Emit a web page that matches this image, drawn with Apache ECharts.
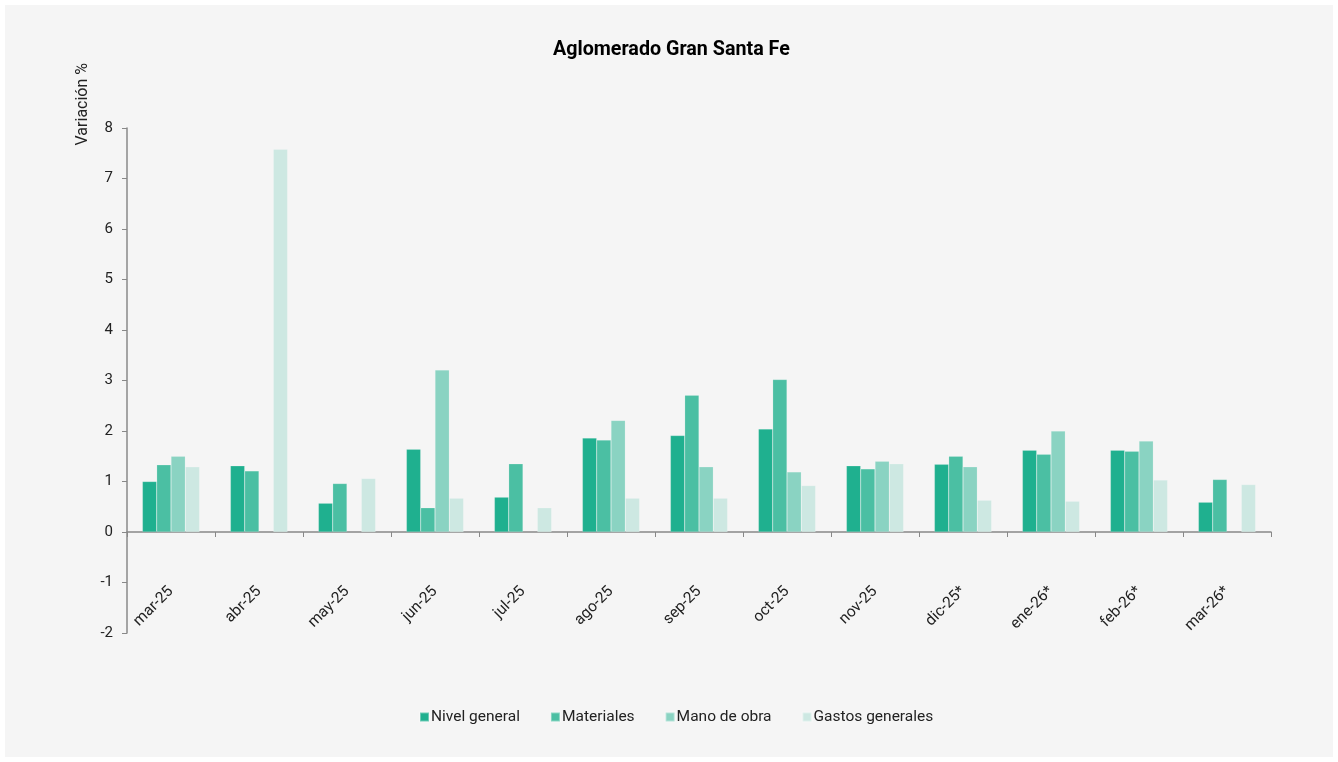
<!DOCTYPE html>
<html>
<head>
<meta charset="utf-8">
<script src="https://cdn.jsdelivr.net/npm/echarts@6/dist/echarts.min.js"></script>
<style>
html,body{margin:0;padding:0;background:#ffffff;}
#chart{position:absolute;left:5px;top:5px;width:1328px;height:752px;}
</style>
</head>
<body>
<div id="chart"></div>
<script>
const categories = ['mar-25','abr-25','may-25','jun-25','jul-25','ago-25','sep-25','oct-25','nov-25','dic-25*','ene-26*','feb-26*','mar-26*'];
const nivelGeneral = [1.00, 1.31, 0.57, 1.64, 0.69, 1.86, 1.91, 2.04, 1.31, 1.34, 1.62, 1.62, 0.59];
const materiales = [1.33, 1.21, 0.96, 0.48, 1.35, 1.82, 2.71, 3.02, 1.25, 1.50, 1.54, 1.60, 1.04];
const manoDeObra = [1.50, null, null, 3.21, null, 2.21, 1.29, 1.19, 1.40, 1.29, 2.00, 1.80, null];
const gastosGenerales = [1.29, 7.58, 1.06, 0.67, 0.48, 0.67, 0.67, 0.92, 1.35, 0.63, 0.61, 1.03, 0.94];
const yTicks = [-2, -1, 0, 1, 2, 3, 4, 5, 6, 7, 8];

const seriesNames = ['Nivel general', 'Materiales', 'Mano de obra', 'Gastos generales'];
const seriesData = [nivelGeneral, materiales, manoDeObra, gastosGenerales];
const colors = ['#1fb08f', '#4bbfa3', '#8ad3c2', '#cde8e2'];

const chart = echarts.init(document.getElementById('chart'));
const font = 'Roboto, "Liberation Sans", sans-serif';
chart.setOption({
  backgroundColor: '#f5f5f5',
  animation: false,
  textStyle: {fontFamily: font},
  title: {
    text: 'Aglomerado Gran Santa Fe',
    left: 543,
    top: 30,
    textStyle: {fontFamily: font, fontSize: 19.7, fontWeight: 'bold', color: '#000'}
  },
  legend: {
    data: seriesNames,
    bottom: 27,
    left: 409,
    itemWidth: 9,
    itemHeight: 9,
    itemGap: 30,
    icon: 'rect',
    textStyle: {fontFamily: font, fontSize: 15.5, color: '#222', padding: [0, 0, 0, -3]}
  },
  graphic: [{
    type: 'text',
    left: 70,
    top: 58,
    rotation: Math.PI / 2,
    style: {text: 'Variación %', font: '16px ' + font, fill: '#222'}
  }],
  grid: {left: 122, right: 62, top: 123, bottom: 124},
  xAxis: {
    type: 'category',
    data: categories,
    axisLine: {onZero: true, lineStyle: {color: '#888', width: 1.5}},
    axisTick: {show: true, length: 5, interval: 0, lineStyle: {color: '#888'}},
    axisLabel: {rotate: 45, margin: -44, fontSize: 15.5, color: '#222', fontFamily: font, interval: 0}
  },
  yAxis: {
    type: 'value',
    min: yTicks[0],
    max: yTicks[yTicks.length - 1],
    interval: 1,
    splitLine: {show: false},
    axisLine: {show: true, lineStyle: {color: '#888', width: 1.5}},
    axisTick: {show: true, length: 5, lineStyle: {color: '#888'}},
    axisLabel: {fontSize: 15, color: '#222', margin: 14, fontFamily: font}
  },
  series: seriesNames.map((name, i) => ({
    name: name,
    type: 'bar',
    data: seriesData[i],
    barGap: '0%',
    barCategoryGap: '35%',
    itemStyle: {color: colors[i], borderColor: 'rgba(255,255,255,0.35)', borderWidth: 0.5}
  }))
});
</script>
</body>
</html>
